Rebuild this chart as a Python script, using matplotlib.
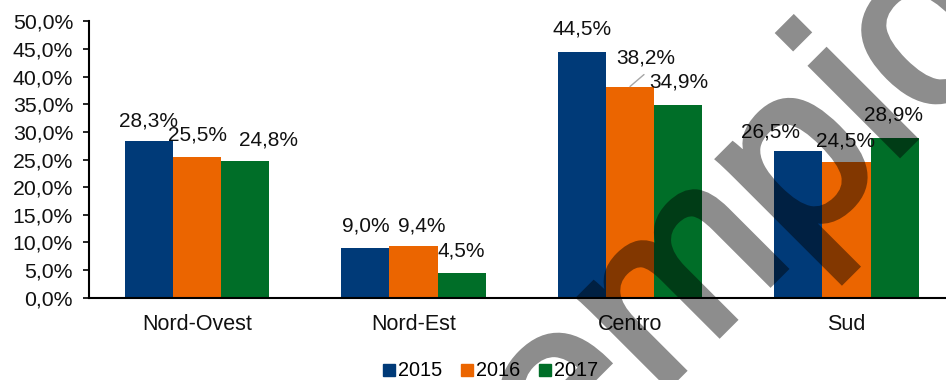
import matplotlib
matplotlib.use("Agg")
import matplotlib.pyplot as plt
import matplotlib.patheffects as pe
import numpy as np

plt.rcParams['font.family'] = ['Liberation Sans', 'DejaVu Sans']

# --- data -------------------------------------------------------------
regions = ["Nord-Ovest", "Nord-Est", "Centro", "Sud"]
years = ["2015", "2016", "2017"]
share_2015 = [28.3, 9.0, 44.5, 26.5]
share_2016 = [25.5, 9.4, 38.2, 24.5]
share_2017 = [24.8, 4.5, 34.9, 28.9]
y_ticks = [0, 5, 10, 15, 20, 25, 30, 35, 40, 45, 50]

# --- styling ----------------------------------------------------------
colors = ["#003A78", "#EB6500", "#006E28"]
# label nudges (pixels) per series / region: (dx, extra dy)
label_nudge = [
    [(0, -1), (0, 0), (0, 1), (-28, -2)],
    [(0, 0), (8, -2), (16, 7), (-1, 0)],
    [(23, -1), (0, 0), (1, 1), (-1, 1)],
]
leader = {(1, 2): (14, 12)}

def pct(v):
    return f"{v:.1f}%".replace(".", ",")

W, H, DPI = 946, 380, 100
fig = plt.figure(figsize=(W / DPI, H / DPI), dpi=DPI)
ax = fig.add_axes([88.75 / W, 1 - 297.7 / H, 866 / W, 276.4 / H])

x = np.arange(len(regions))
bw = 0.222
series = [share_2015, share_2016, share_2017]
for i, (vals, col, yr) in enumerate(zip(series, colors, years)):
    xpos = x + (i - 1) * bw
    ax.bar(xpos, vals, width=bw, color=col, label=yr, zorder=2)
    for j, v in enumerate(vals):
        dx, dy = label_nudge[i][j]
        ax.annotate(pct(v), xy=(xpos[j], v), xytext=(dx, 16 + dy),
                    textcoords="offset pixels", ha="center", va="baseline",
                    fontsize=15, color="#111111", zorder=4)
        if (i, j) in leader:
            lx, ly = leader[(i, j)]
            ax.annotate("", xy=(xpos[j], v), xytext=(lx, ly),
                        textcoords="offset pixels",
                        arrowprops=dict(arrowstyle="-", color="#A6A6A6", lw=1,
                                        shrinkA=0, shrinkB=0), zorder=3)

ax.set_xlim(-0.5, len(regions) - 0.5)
ax.set_ylim(0, 50)
ax.set_yticks(y_ticks)
ax.set_yticklabels([pct(t) for t in y_ticks], fontsize=15.3, color="#111111")
ax.set_xticks(x)
ax.set_xticklabels(regions, fontsize=15.5, color="#111111")
ax.tick_params(axis="x", length=0, pad=12)
ax.tick_params(axis="y", length=4.3, width=1.2, direction="out", pad=7)
for s in ("top", "right"):
    ax.spines[s].set_visible(False)
ax.spines["left"].set_linewidth(1.5)
ax.spines["bottom"].set_linewidth(1.5)

handles = [plt.Line2D([], [], marker="s", linestyle="none", markersize=8.5,
                      color=c) for c in colors]
fig.legend(handles, years, loc="center", bbox_to_anchor=(491 / W, 1 - 371 / H),
           ncol=3, frameon=False, fontsize=14.3, handlelength=0.55,
           handletextpad=0.2, columnspacing=0.95)


# background watermark: drawn opaque, then faded as a whole
def fade(im, dpi):
    im = im.copy()
    im[..., 3] *= 0.45
    return im, 0, 0


E = 236  # em size in pixels
wm = fig.text(388 / W, 1 - 666 / H, "esempio", rotation=45,
              rotation_mode="anchor", ha="left", va="baseline",
              fontsize=E * 72 / DPI, color="black", zorder=10)
wm.set_path_effects([pe.Stroke(linewidth=4.5, foreground="black",
                               joinstyle="miter", capstyle="butt"),
                     pe.Normal()])
wm.set_agg_filter(fade)

fig.savefig("out.png", dpi=DPI)
